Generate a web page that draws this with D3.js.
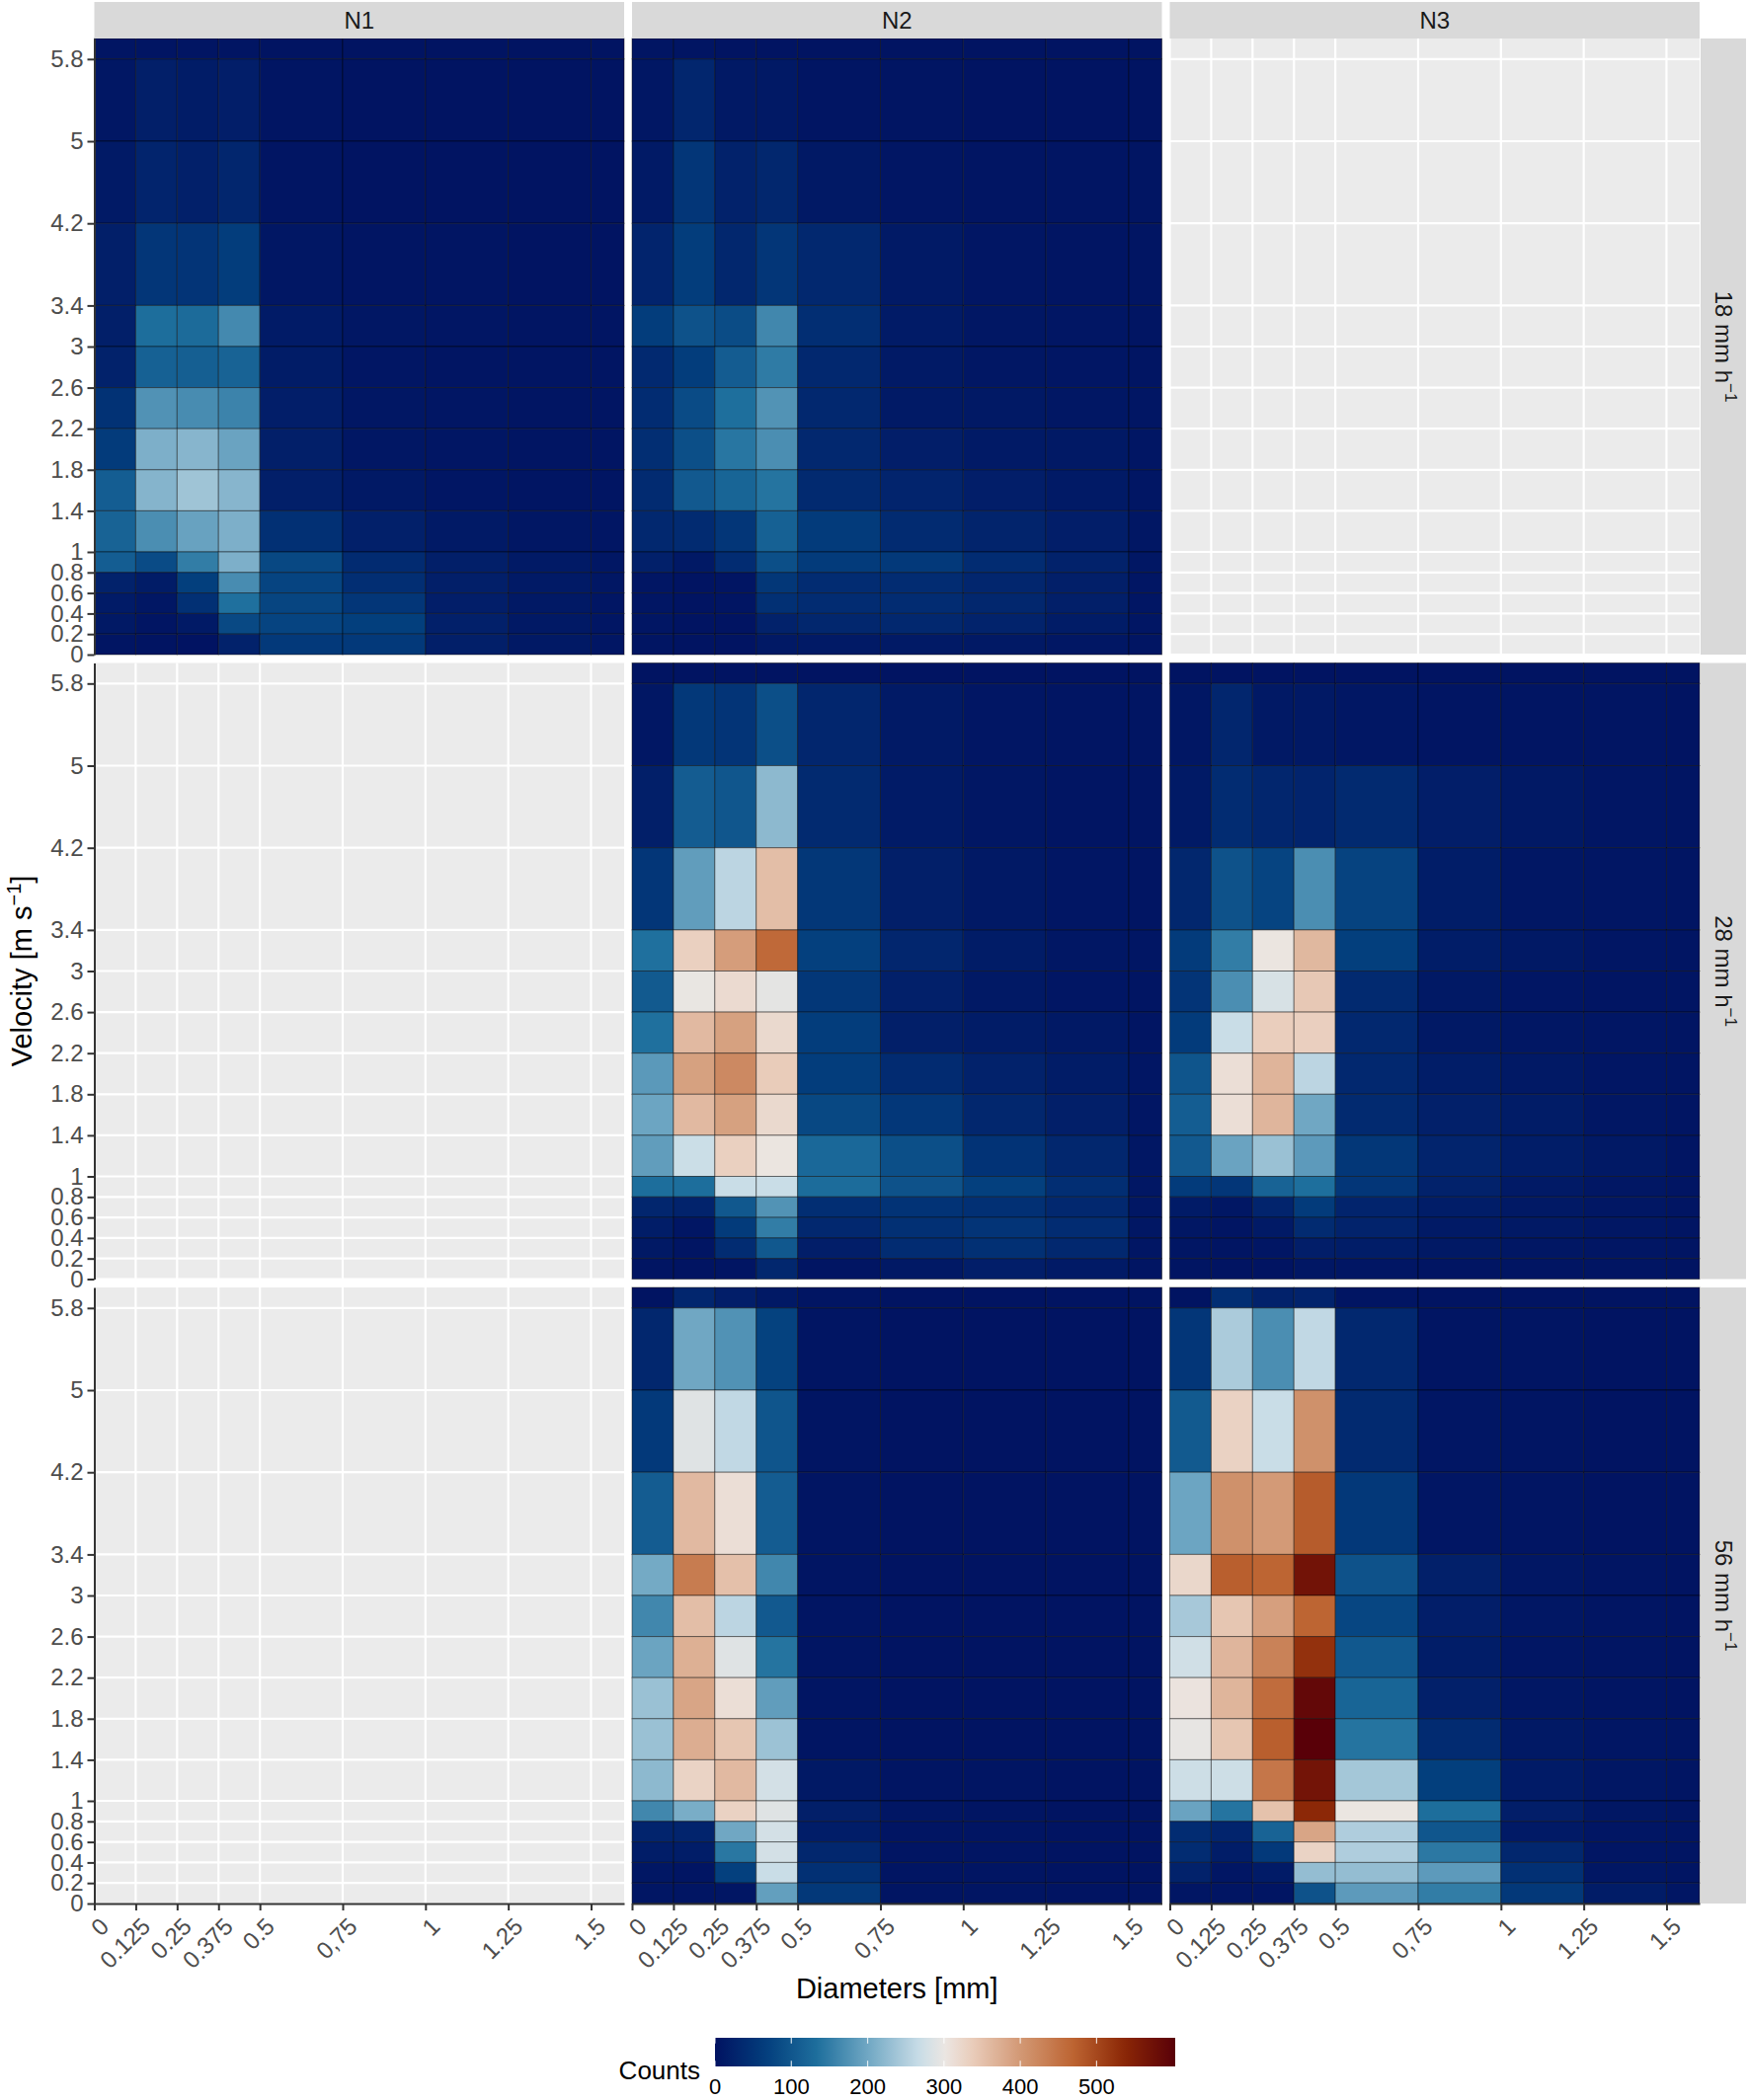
<!DOCTYPE html>
<html><head><meta charset="utf-8">
<script src="https://cdn.jsdelivr.net/npm/d3@7"></script>
<style>
body{margin:0;background:#fff}
svg{display:block}
text{font-family:"Liberation Sans",Arial,Helvetica,sans-serif}
</style>
</head><body>
<svg id="chart" width="1770" height="2127"></svg>
<script>
// ---------- data ----------
const diameterEdges = [0, 0.125, 0.25, 0.375, 0.5, 0.75, 1, 1.25, 1.5, 1.6];
const velocityEdges = [0, 0.2, 0.4, 0.6, 0.8, 1, 1.4, 1.8, 2.2, 2.6, 3, 3.4, 4.2, 5, 5.8, 6];
const xBreaks = [0, 0.125, 0.25, 0.375, 0.5, 0.75, 1, 1.25, 1.5];
const xLabels = ["0", "0.125", "0.25", "0.375", "0.5", "0,75", "1", "1.25", "1.5"];
const yBreaks = [0, 0.2, 0.4, 0.6, 0.8, 1, 1.4, 1.8, 2.2, 2.6, 3, 3.4, 4.2, 5, 5.8];
const yLabels = ["0", "0.2", "0.4", "0.6", "0.8", "1", "1.4", "1.8", "2.2", "2.6", "3", "3.4", "4.2", "5", "5.8"];
const sites = ["N1", "N2", "N3"];
const rainRates = ["18", "28", "56"];
const legendBreaks = [0, 100, 200, 300, 400, 500];
const countMax = 603;

// counts: rows from top velocity bin (5.8-6) down to (0-0.2); columns = diameter bins
const countsN1_18 = [
  [5,5,4,4,3,3,3,3,3],
  [8,20,15,18,5,3,3,3,3],
  [12,28,22,30,5,3,3,3,3],
  [20,55,52,65,8,5,4,3,3],
  [20,132,128,165,14,7,6,5,5],
  [25,115,112,118,15,6,5,4,4],
  [48,175,168,158,18,8,6,5,4],
  [62,210,218,195,20,8,6,5,4],
  [110,216,236,218,20,10,6,5,4],
  [118,170,194,210,45,22,12,8,6],
  [110,85,150,210,80,38,20,12,8],
  [25,15,68,168,75,42,20,12,8],
  [14,8,45,135,76,55,18,10,6],
  [10,5,12,82,75,68,22,10,6],
  [5,3,2,24,60,60,20,10,6]
];
const countsN2_18 = [
  [4,4,3,3,3,3,3,3,3],
  [8,30,10,10,5,4,3,3,3],
  [12,55,25,32,10,6,5,4,4],
  [28,65,32,55,33,12,6,5,5],
  [65,95,86,162,42,14,8,6,5],
  [35,65,108,148,33,12,8,6,5],
  [40,85,134,176,34,12,10,8,6],
  [42,90,142,170,34,18,12,10,6],
  [38,104,120,140,36,28,18,12,6],
  [33,38,55,115,62,38,27,18,8],
  [22,10,40,90,62,60,40,25,8],
  [6,3,5,56,40,40,30,20,6],
  [6,3,4,45,40,40,32,20,6],
  [6,3,3,25,32,33,26,15,6],
  [5,3,3,10,12,12,10,8,5]
];
const countsN2_28 = [
  [3,3,3,3,3,3,3,3,3],
  [8,58,52,90,30,12,6,5,4],
  [20,108,100,222,36,14,8,5,4],
  [55,188,258,355,56,20,10,6,5],
  [135,332,395,462,70,30,15,8,6],
  [105,300,318,295,56,22,10,6,5],
  [135,360,390,320,65,20,15,10,5],
  [183,390,420,338,65,38,25,15,6],
  [197,360,390,320,80,57,32,20,6],
  [188,270,332,303,125,90,50,32,8],
  [132,132,268,268,130,95,70,42,8],
  [30,26,102,176,42,50,46,33,8],
  [16,6,62,150,34,46,52,40,8],
  [10,5,40,102,18,40,46,34,6],
  [5,3,4,32,5,10,18,12,5]
];
const countsN3_28 = [
  [3,3,3,3,3,3,3,3,3],
  [8,30,10,10,8,5,4,4,3],
  [12,40,30,28,36,18,10,6,4],
  [32,95,75,170,74,16,8,6,4],
  [62,150,303,362,68,16,10,6,4],
  [52,170,282,342,36,10,6,5,4],
  [62,268,335,333,33,10,8,6,4],
  [98,312,367,258,34,16,10,6,4],
  [110,312,365,200,36,22,15,8,4],
  [104,195,232,185,56,28,16,10,5],
  [62,55,118,134,55,25,12,8,5],
  [14,8,28,62,28,16,10,8,4],
  [8,5,12,38,26,12,10,8,4],
  [6,4,6,18,16,10,8,6,4],
  [4,3,3,8,6,5,4,4,3]
];
const countsN2_56 = [
  [3,30,18,10,4,3,3,3,3],
  [32,200,175,72,4,3,3,3,3],
  [60,290,262,98,4,3,3,3,3],
  [108,360,312,108,4,3,3,3,3],
  [203,438,352,162,4,3,3,3,3],
  [162,355,258,104,4,3,3,3,3],
  [196,372,290,140,4,3,3,3,3],
  [232,385,312,188,5,3,3,3,3],
  [232,375,345,234,5,3,3,3,3],
  [222,328,360,278,10,5,4,3,3],
  [162,207,330,290,20,6,4,3,3],
  [28,28,200,278,16,5,4,3,3],
  [16,16,143,278,32,5,4,3,3],
  [8,4,70,268,45,5,4,3,3],
  [6,4,6,190,58,5,4,3,3]
];
const countsN3_56 = [
  [3,42,25,26,5,3,3,3,3],
  [55,245,170,262,34,5,4,3,3],
  [105,330,268,410,36,6,4,3,3],
  [197,410,398,478,58,6,4,3,3],
  [322,475,468,570,95,22,8,5,3],
  [242,345,392,468,78,18,8,5,3],
  [275,365,430,525,102,16,6,4,3],
  [305,366,458,590,120,22,8,5,3],
  [298,345,475,603,140,38,10,6,4],
  [272,272,445,568,240,68,14,8,4],
  [195,140,350,535,302,132,18,8,4],
  [40,28,118,385,248,100,12,6,4],
  [40,16,60,328,248,145,32,6,4],
  [24,6,14,228,228,185,46,8,4],
  [6,4,5,95,185,150,58,15,6]
];

// panel grid: [rain row][site col]; null = no data
const panelCounts = [
  [countsN1_18, countsN2_18, null],
  [null, countsN2_28, countsN3_28],
  [null, countsN2_56, countsN3_56]
];

// vik-like diverging palette stops
const paletteStops = [0, 1/9, 2/9, 1/3, 4/9, 0.5, 5/9, 2/3, 7/9, 8/9, 1];
const paletteColors = ["#011261","#033E7D","#1E6F9D","#71A8C4","#C9DDE7","#EBE6E2","#EACEBD","#D29773","#BD6432","#8B2706","#590008"];

// ---------- layout ----------
const colLeft = [95.5, 640, 1184.5];
const panelW = 536.5;
const rowTop = [39, 671.5, 1304];
const panelH = 624;
const stripTop = 2, stripH = 37;
const stripRightX = 1722, stripRightW = 46;

const svg = d3.select("#chart");
const x = d3.scaleLinear().domain([0, 1.6]).range([0, panelW]);
const y = d3.scaleLinear().domain([0, 6]).range([panelH, 0]);
const color = d3.scaleLinear()
  .domain(paletteStops.map(s => s * countMax))
  .range(paletteColors)
  .interpolate(d3.interpolateRgb)
  .clamp(true);

const tickColor = "#333333";
const labelColor = "#4d4d4d";
const tickFont = 24;

// panels
rainRates.forEach((rate, ri) => {
  sites.forEach((site, ci) => {
    const g = svg.append("g").attr("transform", `translate(${colLeft[ci]},${rowTop[ri]})`);
    g.append("rect").attr("width", panelW).attr("height", panelH).attr("fill", "#ebebeb");
    g.selectAll("line.gx").data(xBreaks).join("line")
      .attr("x1", d => x(d)).attr("x2", d => x(d)).attr("y1", 0).attr("y2", panelH)
      .attr("stroke", "#fff").attr("stroke-width", 2.2);
    g.selectAll("line.gy").data(yBreaks).join("line")
      .attr("y1", d => y(d)).attr("y2", d => y(d)).attr("x1", 0).attr("x2", panelW)
      .attr("stroke", "#fff").attr("stroke-width", 2.2);
    const counts = panelCounts[ri][ci];
    if (counts) {
      const cells = [];
      const nRows = velocityEdges.length - 1;
      counts.forEach((row, i) => {
        row.forEach((v, j) => {
          cells.push({
            x0: diameterEdges[j], x1: diameterEdges[j + 1],
            y0: velocityEdges[nRows - 1 - i], y1: velocityEdges[nRows - i],
            v
          });
        });
      });
      g.selectAll("rect.cell").data(cells).join("rect")
        .attr("class", "cell")
        .attr("x", d => x(d.x0)).attr("width", d => x(d.x1) - x(d.x0))
        .attr("y", d => y(d.y1)).attr("height", d => y(d.y0) - y(d.y1))
        .attr("fill", d => color(d.v))
        .attr("stroke", "#000").attr("stroke-opacity", 0.45).attr("stroke-width", 1);
    }
    // left axis for first column
    if (ci === 0) {
      const ax = g.append("g").call(
        d3.axisLeft(y).tickValues(yBreaks).tickFormat((d, i) => yLabels[i])
          .tickSize(7).tickSizeOuter(0).tickPadding(4)
      );
      ax.select(".domain").attr("stroke", tickColor).attr("stroke-width", 2);
      ax.selectAll(".tick line").attr("stroke", tickColor).attr("stroke-width", 2);
      ax.selectAll(".tick text").attr("fill", labelColor).attr("font-size", tickFont)
        .attr("font-family", "Liberation Sans, Arial, sans-serif");
    }
    // bottom axis for last row
    if (ri === rainRates.length - 1) {
      const ax = g.append("g").attr("transform", `translate(0,${panelH})`).call(
        d3.axisBottom(x).tickValues(xBreaks).tickFormat((d, i) => xLabels[i])
          .tickSize(7).tickSizeOuter(0).tickPadding(4)
      );
      ax.select(".domain").attr("stroke", tickColor).attr("stroke-width", 2);
      ax.selectAll(".tick line").attr("stroke", tickColor).attr("stroke-width", 2);
      ax.selectAll(".tick text").attr("fill", labelColor).attr("font-size", tickFont)
        .attr("font-family", "Liberation Sans, Arial, sans-serif")
        .attr("x", 0).attr("y", 0).attr("dy", "0.75em")
        .attr("text-anchor", "end")
        .attr("transform", "translate(3,12) rotate(-45)");
    }
  });
});

// top strips
sites.forEach((site, ci) => {
  svg.append("rect").attr("x", colLeft[ci]).attr("y", stripTop).attr("width", panelW).attr("height", stripH)
    .attr("fill", "#d9d9d9");
  svg.append("text").attr("x", colLeft[ci] + panelW / 2).attr("y", stripTop + stripH / 2)
    .attr("text-anchor", "middle").attr("dominant-baseline", "central")
    .attr("font-size", 24).attr("fill", "#1a1a1a").text(site);
});

// right strips
rainRates.forEach((rate, ri) => {
  svg.append("rect").attr("x", stripRightX).attr("y", rowTop[ri]).attr("width", stripRightW).attr("height", panelH)
    .attr("fill", "#d9d9d9");
  const t = svg.append("text")
    .attr("transform", `translate(${stripRightX + stripRightW / 2 - 8},${rowTop[ri] + panelH / 2}) rotate(90)`)
    .attr("text-anchor", "middle").attr("font-size", 24).attr("fill", "#1a1a1a");
  t.append("tspan").text(`${rate} mm h`);
  t.append("tspan").attr("font-size", 17).attr("dy", -10).text("\u22121");
});

// axis titles
const yt = svg.append("text")
  .attr("transform", `translate(32,${(rowTop[0] + rowTop[2] + panelH) / 2}) rotate(-90)`)
  .attr("text-anchor", "middle").attr("font-size", 29).attr("fill", "#000");
yt.append("tspan").text("Velocity [m s");
yt.append("tspan").attr("font-size", 20).attr("dy", -11).text("\u22121");
yt.append("tspan").attr("dy", 11).text("]");

svg.append("text").attr("x", (colLeft[0] + colLeft[2] + panelW) / 2).attr("y", 2024)
  .attr("text-anchor", "middle").attr("font-size", 29).attr("fill", "#000").text("Diameters [mm]");

// legend
const legX = 724, legW = 466, legY = 2064, legH = 29;
const lx = d3.scaleLinear().domain([0, countMax]).range([legX, legX + legW]);
const grad = svg.append("defs").append("linearGradient").attr("id", "legGrad")
  .attr("x1", "0%").attr("x2", "100%").attr("y1", "0%").attr("y2", "0%");
d3.range(0, 1.0001, 0.02).forEach(t => {
  grad.append("stop").attr("offset", `${t * 100}%`).attr("stop-color", color(t * countMax));
});
svg.append("rect").attr("x", legX).attr("y", legY).attr("width", legW).attr("height", legH)
  .attr("fill", "url(#legGrad)");
legendBreaks.forEach(b => {
  svg.append("line").attr("x1", lx(b)).attr("x2", lx(b)).attr("y1", legY).attr("y2", legY + legH / 5)
    .attr("stroke", "#fff").attr("stroke-width", 1.2).attr("stroke-opacity", 0.8);
  svg.append("line").attr("x1", lx(b)).attr("x2", lx(b)).attr("y1", legY + legH * 4 / 5).attr("y2", legY + legH)
    .attr("stroke", "#fff").attr("stroke-width", 1.2).attr("stroke-opacity", 0.8);
  svg.append("text").attr("x", lx(b)).attr("y", 2121).attr("text-anchor", "middle")
    .attr("font-size", 22).attr("fill", "#000").text(b);
});
svg.append("text").attr("x", 709).attr("y", 2106).attr("text-anchor", "end")
  .attr("font-size", 26).attr("fill", "#000").text("Counts");
</script>
</body></html>
